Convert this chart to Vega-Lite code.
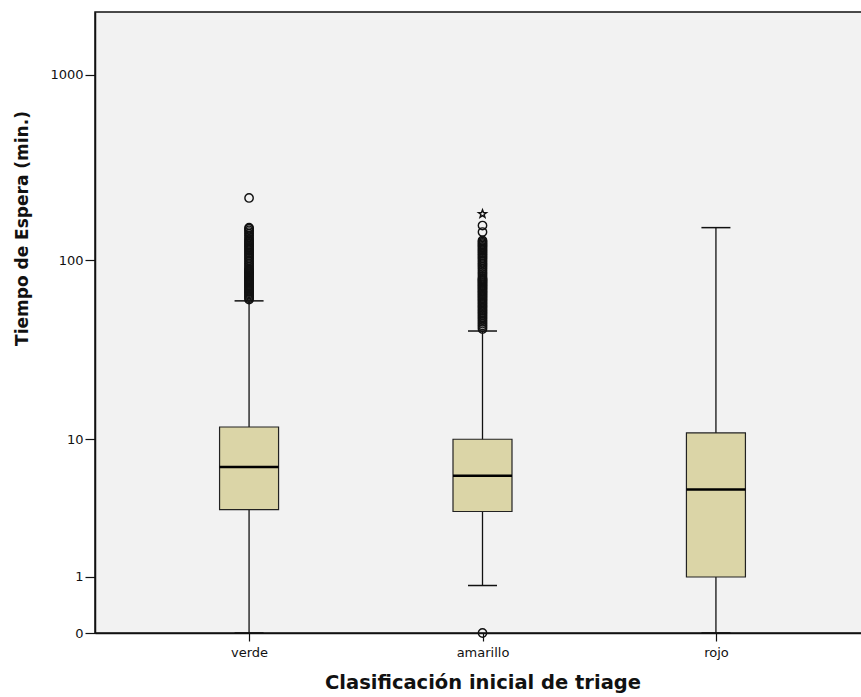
{
  "$schema": "https://vega.github.io/schema/vega-lite/v6.json",
  "autosize": "none",
  "padding": {"left": 95, "top": 12, "right": 0, "bottom": 64},
  "width": 775,
  "height": 621,
  "background": "white",
  "config": {
    "view": {"fill": "#f2f2f2", "stroke": "#111", "strokeWidth": 1.5},
    "axis": {"grid": false, "domainColor": "#111", "tickColor": "#111", "labelColor": "#111", "titleColor": "#111", "labelFont": "DejaVu Sans", "titleFont": "DejaVu Sans", "domainWidth": 1.5, "tickWidth": 1.2}
  },
  "datasets": {
    "stats": [
      {"cat": "verde", "lo": 0, "q1": 3.6, "med": 6.8, "q3": 11.8, "hi": 60},
      {"cat": "amarillo", "lo": 0.8, "q1": 3.5, "med": 6.0, "q3": 10.0, "hi": 41},
      {"cat": "rojo", "lo": 0, "q1": 1.0, "med": 4.9, "q3": 10.9, "hi": 150}
    ],
    "outliers": [
      {"cat": "verde", "v": 61, "type": "outlier"}, {"cat": "verde", "v": 62, "type": "outlier"}, {"cat": "verde", "v": 63, "type": "outlier"}, {"cat": "verde", "v": 64, "type": "outlier"}, {"cat": "verde", "v": 65, "type": "outlier"}, {"cat": "verde", "v": 66, "type": "outlier"}, {"cat": "verde", "v": 67, "type": "outlier"}, {"cat": "verde", "v": 68, "type": "outlier"}, {"cat": "verde", "v": 69, "type": "outlier"}, {"cat": "verde", "v": 70, "type": "outlier"},
      {"cat": "verde", "v": 71, "type": "outlier"}, {"cat": "verde", "v": 72, "type": "outlier"}, {"cat": "verde", "v": 73, "type": "outlier"}, {"cat": "verde", "v": 74, "type": "outlier"}, {"cat": "verde", "v": 75, "type": "outlier"}, {"cat": "verde", "v": 76, "type": "outlier"}, {"cat": "verde", "v": 77, "type": "outlier"}, {"cat": "verde", "v": 78, "type": "outlier"}, {"cat": "verde", "v": 79, "type": "outlier"}, {"cat": "verde", "v": 80, "type": "outlier"},
      {"cat": "verde", "v": 81, "type": "outlier"}, {"cat": "verde", "v": 82, "type": "outlier"}, {"cat": "verde", "v": 83, "type": "outlier"}, {"cat": "verde", "v": 84, "type": "outlier"}, {"cat": "verde", "v": 85, "type": "outlier"}, {"cat": "verde", "v": 86, "type": "outlier"}, {"cat": "verde", "v": 87, "type": "outlier"}, {"cat": "verde", "v": 88, "type": "outlier"}, {"cat": "verde", "v": 89, "type": "outlier"}, {"cat": "verde", "v": 90, "type": "outlier"},
      {"cat": "verde", "v": 92, "type": "outlier"}, {"cat": "verde", "v": 94, "type": "outlier"}, {"cat": "verde", "v": 96, "type": "outlier"}, {"cat": "verde", "v": 98, "type": "outlier"}, {"cat": "verde", "v": 100, "type": "outlier"}, {"cat": "verde", "v": 102, "type": "outlier"}, {"cat": "verde", "v": 104, "type": "outlier"}, {"cat": "verde", "v": 106, "type": "outlier"}, {"cat": "verde", "v": 108, "type": "outlier"}, {"cat": "verde", "v": 110, "type": "outlier"},
      {"cat": "verde", "v": 112, "type": "outlier"}, {"cat": "verde", "v": 114, "type": "outlier"}, {"cat": "verde", "v": 116, "type": "outlier"}, {"cat": "verde", "v": 118, "type": "outlier"}, {"cat": "verde", "v": 120, "type": "outlier"}, {"cat": "verde", "v": 122, "type": "outlier"}, {"cat": "verde", "v": 124, "type": "outlier"}, {"cat": "verde", "v": 126, "type": "outlier"}, {"cat": "verde", "v": 128, "type": "outlier"}, {"cat": "verde", "v": 130, "type": "outlier"},
      {"cat": "verde", "v": 133, "type": "outlier"}, {"cat": "verde", "v": 136, "type": "outlier"}, {"cat": "verde", "v": 139, "type": "outlier"}, {"cat": "verde", "v": 142, "type": "outlier"}, {"cat": "verde", "v": 145, "type": "outlier"}, {"cat": "verde", "v": 148, "type": "outlier"}, {"cat": "verde", "v": 150, "type": "outlier"},
      {"cat": "verde", "v": 217, "type": "outlier"},
      {"cat": "amarillo", "v": 0, "type": "outlier"},
      {"cat": "amarillo", "v": 42, "type": "outlier"}, {"cat": "amarillo", "v": 43, "type": "outlier"}, {"cat": "amarillo", "v": 44, "type": "outlier"}, {"cat": "amarillo", "v": 45, "type": "outlier"}, {"cat": "amarillo", "v": 46, "type": "outlier"}, {"cat": "amarillo", "v": 47, "type": "outlier"}, {"cat": "amarillo", "v": 48, "type": "outlier"}, {"cat": "amarillo", "v": 49, "type": "outlier"}, {"cat": "amarillo", "v": 50, "type": "outlier"}, {"cat": "amarillo", "v": 51, "type": "outlier"},
      {"cat": "amarillo", "v": 52, "type": "outlier"}, {"cat": "amarillo", "v": 53, "type": "outlier"}, {"cat": "amarillo", "v": 54, "type": "outlier"}, {"cat": "amarillo", "v": 55, "type": "outlier"}, {"cat": "amarillo", "v": 56, "type": "outlier"}, {"cat": "amarillo", "v": 57, "type": "outlier"}, {"cat": "amarillo", "v": 58, "type": "outlier"}, {"cat": "amarillo", "v": 59, "type": "outlier"}, {"cat": "amarillo", "v": 60, "type": "outlier"}, {"cat": "amarillo", "v": 61, "type": "outlier"},
      {"cat": "amarillo", "v": 62, "type": "outlier"}, {"cat": "amarillo", "v": 63, "type": "outlier"}, {"cat": "amarillo", "v": 64, "type": "outlier"}, {"cat": "amarillo", "v": 65, "type": "outlier"}, {"cat": "amarillo", "v": 66, "type": "outlier"}, {"cat": "amarillo", "v": 67, "type": "outlier"}, {"cat": "amarillo", "v": 68, "type": "outlier"}, {"cat": "amarillo", "v": 69, "type": "outlier"}, {"cat": "amarillo", "v": 70, "type": "outlier"}, {"cat": "amarillo", "v": 71, "type": "outlier"},
      {"cat": "amarillo", "v": 72, "type": "outlier"}, {"cat": "amarillo", "v": 73, "type": "outlier"}, {"cat": "amarillo", "v": 74, "type": "outlier"}, {"cat": "amarillo", "v": 75, "type": "outlier"}, {"cat": "amarillo", "v": 76, "type": "outlier"}, {"cat": "amarillo", "v": 77, "type": "outlier"}, {"cat": "amarillo", "v": 78, "type": "outlier"}, {"cat": "amarillo", "v": 79, "type": "outlier"}, {"cat": "amarillo", "v": 80, "type": "outlier"}, {"cat": "amarillo", "v": 82, "type": "outlier"},
      {"cat": "amarillo", "v": 84, "type": "outlier"}, {"cat": "amarillo", "v": 86, "type": "outlier"}, {"cat": "amarillo", "v": 88, "type": "outlier"}, {"cat": "amarillo", "v": 90, "type": "outlier"}, {"cat": "amarillo", "v": 92, "type": "outlier"}, {"cat": "amarillo", "v": 94, "type": "outlier"}, {"cat": "amarillo", "v": 96, "type": "outlier"}, {"cat": "amarillo", "v": 98, "type": "outlier"}, {"cat": "amarillo", "v": 100, "type": "outlier"}, {"cat": "amarillo", "v": 102, "type": "outlier"},
      {"cat": "amarillo", "v": 104, "type": "outlier"}, {"cat": "amarillo", "v": 106, "type": "outlier"}, {"cat": "amarillo", "v": 108, "type": "outlier"}, {"cat": "amarillo", "v": 110, "type": "outlier"}, {"cat": "amarillo", "v": 112, "type": "outlier"}, {"cat": "amarillo", "v": 114, "type": "outlier"}, {"cat": "amarillo", "v": 116, "type": "outlier"}, {"cat": "amarillo", "v": 118, "type": "outlier"}, {"cat": "amarillo", "v": 120, "type": "outlier"}, {"cat": "amarillo", "v": 122, "type": "outlier"},
      {"cat": "amarillo", "v": 124, "type": "outlier"}, {"cat": "amarillo", "v": 126, "type": "outlier"}, {"cat": "amarillo", "v": 128, "type": "outlier"},
      {"cat": "amarillo", "v": 142, "type": "outlier"}, {"cat": "amarillo", "v": 154, "type": "outlier"},
      {"cat": "amarillo", "v": 178, "type": "extreme"}
    ]
  },
  "encoding": {
    "x": {
      "field": "cat", "type": "nominal", "sort": ["verde", "amarillo", "rojo"],
      "scale": {"type": "point", "padding": 0.66},
      "axis": {"title": "Clasificación inicial de triage", "labelAngle": 0, "tickSize": 8, "labelPadding": 5, "labelFontSize": 13, "titleFontSize": 19.5, "titleFontWeight": "bold", "titlePadding": 14}
    }
  },
  "layer": [
    {
      "data": {"name": "stats"},
      "mark": {"type": "rule", "color": "#111", "strokeWidth": 1.3},
      "encoding": {
        "y": {"field": "lo", "type": "quantitative",
          "scale": {"type": "symlog", "constant": 1, "domain": [0, 2177], "nice": false},
          "axis": {"title": "Tiempo de Espera (min.)", "values": [0, 1, 10, 100, 1000], "format": "d", "tickSize": 10, "labelPadding": 2, "labelFontSize": 13, "titleFontSize": 17, "titleFontWeight": "bold", "titleX": -73, "titleY": 216, "titleAngle": -90, "titleAlign": "center", "titleBaseline": "middle"}},
        "y2": {"field": "hi"}
      }
    },
    {
      "data": {"name": "stats"},
      "mark": {"type": "bar", "size": 59, "fill": "#dbd5a7", "stroke": "#222", "strokeWidth": 1.2},
      "encoding": {
        "y": {"field": "q1", "type": "quantitative"},
        "y2": {"field": "q3"}
      }
    },
    {
      "data": {"name": "stats"},
      "mark": {"type": "tick", "size": 59, "thickness": 2.5, "color": "#000", "opacity": 1},
      "encoding": {"y": {"field": "med", "type": "quantitative"}}
    },
    {
      "data": {"name": "stats"},
      "mark": {"type": "tick", "size": 29, "thickness": 1.5, "color": "#111", "opacity": 1},
      "encoding": {"y": {"field": "lo", "type": "quantitative"}}
    },
    {
      "data": {"name": "stats"},
      "mark": {"type": "tick", "size": 29, "thickness": 1.5, "color": "#111", "opacity": 1},
      "encoding": {"y": {"field": "hi", "type": "quantitative"}}
    },
    {
      "data": {"name": "outliers"},
      "mark": {"type": "point", "filled": false, "stroke": "#111", "strokeWidth": 1.4, "size": 70, "opacity": 1},
      "encoding": {
        "y": {"field": "v", "type": "quantitative"},
        "shape": {"field": "type", "type": "nominal", "legend": null,
          "scale": {"domain": ["outlier", "extreme"], "range": ["circle", "M0,-1L0.24,-0.33L0.95,-0.31L0.38,0.12L0.59,0.81L0,0.4L-0.59,0.81L-0.38,0.12L-0.95,-0.31L-0.24,-0.33Z"]}}
      }
    }
  ]
}
